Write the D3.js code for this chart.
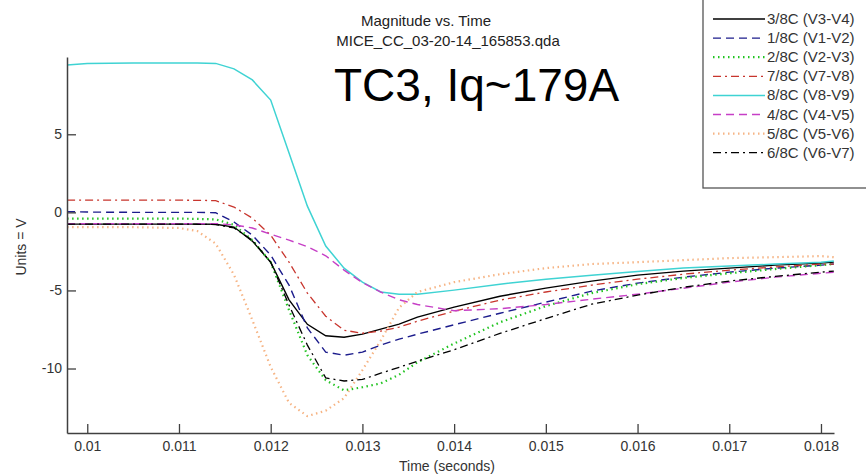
<!DOCTYPE html>
<html>
<head>
<meta charset="utf-8">
<script src="https://cdn.jsdelivr.net/npm/d3@7"></script>
<style>
  body { margin: 0; background: #fff; }
  svg { display: block; font-family: "Liberation Sans", Arial, sans-serif; }
</style>
</head>
<body>
<div id="chart"></div>
<script>

// time samples (seconds)
var times = [0.00978, 0.0100, 0.0105, 0.0110, 0.0112, 0.0114, 0.0116, 0.0118, 0.0120,
  0.0122, 0.0124, 0.0126, 0.0128, 0.0130, 0.0132, 0.0134, 0.0136, 0.0140, 0.0145,
  0.0150, 0.0155, 0.0160, 0.0165, 0.0170, 0.0175, 0.0180, 0.01814];

var v3_8 = [-0.75, -0.75, -0.75, -0.75, -0.75, -0.76, -0.94, -1.84, -3.19,
  -5.6, -7.17, -7.9, -8.0, -7.8, -7.48, -7.16, -6.71, -6.07, -5.37,
  -4.85, -4.4, -4.02, -3.76, -3.57, -3.38, -3.25, -3.19];
var v1_8 = [0.05, 0.02, 0.0, 0.0, 0.0, -0.02, -0.62, -1.46, -2.74,
  -4.66, -7.4, -8.95, -9.15, -8.95, -8.5, -8.12, -7.8, -7.2, -6.46,
  -5.75, -5.04, -4.53, -4.15, -3.83, -3.57, -3.38, -3.31];
var v2_8 = [-0.4, -0.4, -0.4, -0.4, -0.42, -0.45, -0.8, -1.78, -3.19,
  -6.26, -9.15, -10.75, -11.4, -11.2, -10.95, -10.4, -9.6, -8.4, -7.04,
  -6.0, -5.17, -4.6, -4.2, -3.9, -3.63, -3.38, -3.31];
var v7_8 = [0.78, 0.78, 0.78, 0.78, 0.77, 0.75, 0.34, -0.37, -1.46,
  -3.19, -5.17, -6.65, -7.55, -7.74, -7.6, -7.35, -6.97, -6.33, -5.62,
  -5.1, -4.66, -4.28, -3.96, -3.7, -3.5, -3.31, -3.31];
var v8_8 = [9.44, 9.54, 9.57, 9.57, 9.57, 9.54, 9.19, 8.48, 7.19,
  3.8, 0.4, -2.16, -3.57, -4.47, -5.1, -5.24, -5.24, -4.98, -4.6,
  -4.28, -4.03, -3.78, -3.57, -3.44, -3.31, -3.19, -3.12];
var v4_8 = [-0.72, -0.72, -0.72, -0.72, -0.72, -0.72, -0.8, -1.0, -1.4,
  -1.78, -2.2, -2.78, -3.7, -4.5, -5.1, -5.6, -5.9, -6.3, -6.17,
  -5.9, -5.56, -5.24, -4.86, -4.47, -4.15, -3.9, -3.83];
var v5_8 = [-0.94, -0.94, -0.95, -1.0, -1.2, -2.0, -4.0, -6.9, -9.9,
  -12.2, -13.05, -12.7, -11.9, -10.1, -8.2, -6.1, -5.1, -4.47, -3.96,
  -3.57, -3.31, -3.19, -3.06, -2.93, -2.87, -2.8, -2.87];
var v6_8 = [-0.75, -0.75, -0.75, -0.75, -0.76, -0.78, -1.0, -1.78, -3.19,
  -5.94, -8.5, -10.6, -10.8, -10.7, -10.3, -9.92, -9.53, -8.8, -7.75,
  -6.8, -5.88, -5.3, -4.8, -4.4, -4.1, -3.83, -3.76];

var seriesNames = ["3/8C (V3-V4)", "1/8C (V1-V2)", "2/8C (V2-V3)", "7/8C (V7-V8)",
  "8/8C (V8-V9)", "4/8C (V4-V5)", "5/8C (V5-V6)", "6/8C (V6-V7)"];
var seriesValues = [v3_8, v1_8, v2_8, v7_8, v8_8, v4_8, v5_8, v6_8];

var xTicks = [0.010, 0.011, 0.012, 0.013, 0.014, 0.015, 0.016, 0.017, 0.018];
var xTickLabels = ["0.01", "0.011", "0.012", "0.013", "0.014", "0.015", "0.016", "0.017", "0.018"];
var yTicks = [-10, -5, 0, 5];
var yTickLabels = ["-10", "-5", "0", "5"];

// line looks for each series, same order as above
var styles = [
  {color: "#000000", dash: null, w: 1.4},
  {color: "#1c1c8c", dash: "8,5", w: 1.4},
  {color: "#22c422", dash: "1.5,3.5", w: 2.2},
  {color: "#c8352d", dash: "8,4,2,4", w: 1.3},
  {color: "#3fd3d3", dash: null, w: 1.5},
  {color: "#c63fc6", dash: "8,5", w: 1.4},
  {color: "#f6b484", dash: "1.5,3.5", w: 2.2},
  {color: "#000000", dash: "8,4,2,4", w: 1.3}
];

var width = 866, height = 475;
var plot = {left: 67, right: 834, top: 57, bottom: 433};

var svg = d3.select("#chart").append("svg")
  .attr("width", width)
  .attr("height", height);

var x = d3.scaleLinear()
  .domain([0.009779, 0.018142])
  .range([plot.left, plot.right]);

var y = d3.scaleLinear()
  .domain([-14.13, 9.95])
  .range([plot.bottom, plot.top]);

var line = d3.line()
  .x(function(d) { return x(d[0]); })
  .y(function(d) { return y(d[1]); });

// series
seriesValues.forEach(function(vals, i) {
  var pts = times.map(function(t, j) { return [t, vals[j]]; });
  svg.append("path")
    .attr("d", line(pts))
    .attr("fill", "none")
    .attr("stroke", styles[i].color)
    .attr("stroke-width", styles[i].w)
    .attr("stroke-dasharray", styles[i].dash);
});

// axes (ticks point inward, like matlab)
var axisColor = "#404040";
var xAxis = d3.axisBottom(x)
  .tickValues(xTicks)
  .tickSizeInner(-9)
  .tickSizeOuter(0)
  .tickPadding(8)
  .tickFormat(function(d, i) { return xTickLabels[i]; });

var gx = svg.append("g")
  .attr("transform", "translate(0," + plot.bottom + ")")
  .call(xAxis);

var yAxis = d3.axisLeft(y)
  .tickValues(yTicks)
  .tickSizeInner(-9)
  .tickSizeOuter(0)
  .tickPadding(5)
  .tickFormat(function(d, i) { return yTickLabels[i]; });

var gy = svg.append("g")
  .attr("transform", "translate(" + plot.left + ",0)")
  .call(yAxis);

[gx, gy].forEach(function(g) {
  g.select(".domain").attr("stroke", axisColor).attr("stroke-width", 1.5);
  g.selectAll(".tick line").attr("stroke", axisColor).attr("stroke-width", 1.3);
  g.selectAll(".tick text")
    .attr("fill", "#333")
    .style("font-size", "14px")
    .style("font-family", "'Liberation Sans', Arial, sans-serif");
});

// titles
svg.append("text")
  .attr("x", 426).attr("y", 26)
  .attr("text-anchor", "middle")
  .style("font-size", "15px")
  .attr("fill", "#222")
  .text("Magnitude vs. Time");

svg.append("text")
  .attr("x", 448).attr("y", 46)
  .attr("text-anchor", "middle")
  .style("font-size", "15px")
  .attr("fill", "#222")
  .text("MICE_CC_03-20-14_165853.qda");

svg.append("text")
  .attr("x", 334).attr("y", 101)
  .style("font-size", "46px")
  .attr("fill", "#000")
  .text("TC3, Iq~179A");

svg.append("text")
  .attr("transform", "translate(26,247) rotate(-90)")
  .attr("text-anchor", "middle")
  .style("font-size", "14px")
  .attr("fill", "#333")
  .text("Units = V");

svg.append("text")
  .attr("x", 447).attr("y", 471)
  .attr("text-anchor", "middle")
  .style("font-size", "14px")
  .attr("fill", "#333")
  .text("Time (seconds)");

// legend
var legend = svg.append("g").attr("transform", "translate(703,0)");
legend.append("rect")
  .attr("x", 0).attr("y", -2)
  .attr("width", 170).attr("height", 190)
  .attr("fill", "#fff")
  .attr("stroke", "#555")
  .attr("stroke-width", 1.3);

seriesNames.forEach(function(name, i) {
  var yy = 19 + i * 19.1;
  legend.append("line")
    .attr("x1", 10).attr("x2", 62)
    .attr("y1", yy).attr("y2", yy)
    .attr("stroke", styles[i].color)
    .attr("stroke-width", styles[i].w)
    .attr("stroke-dasharray", styles[i].dash);
  legend.append("text")
    .attr("x", 64).attr("y", yy + 5)
    .style("font-size", "15px")
    .attr("fill", "#333")
    .text(name);
});

</script>
</body>
</html>
